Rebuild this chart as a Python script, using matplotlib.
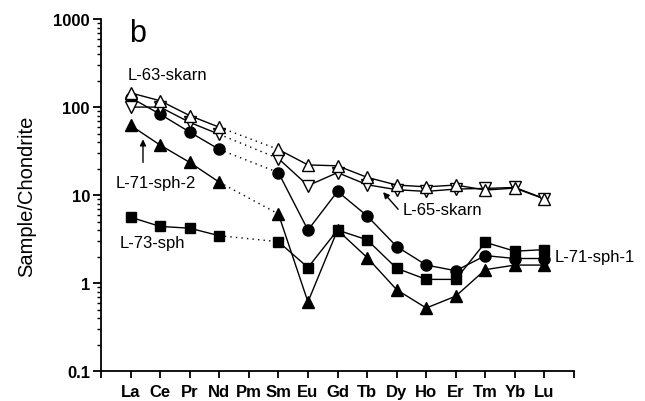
import numpy as np
import matplotlib
matplotlib.use("Agg")
from matplotlib import pyplot as plt
from matplotlib.ticker import LogLocator, NullFormatter, FixedLocator

plt.rcParams['font.family'] = ['Liberation Sans', 'DejaVu Sans']

# REE order, Pm (position 5) has no data
elements = ['La', 'Ce', 'Pr', 'Nd', 'Pm', 'Sm', 'Eu', 'Gd', 'Tb', 'Dy', 'Ho', 'Er', 'Tm', 'Yb', 'Lu']

# chondrite-normalised values, None for Pm
l63_skarn = [145, 118, 80, 59, None, 33, 22, 21.5, 15.9, 13.0, 12.4, 13.0, 11.4, 12.0, 9.0]
l65_skarn = [100, 100, 67, 49, None, 26, 12.8, 18, 13.1, 11.5, 11.0, 11.7, 11.9, 12.2, 9.1]
l71_sph1 = [128, 83, 52, 33, None, 18, 4.0, 11, 5.8, 2.6, 1.6, 1.38, 2.05, 1.9, 1.9]
l71_sph2 = [62, 37, 23.5, 14, None, 6.1, 0.61, 4.0, 1.95, 0.84, 0.52, 0.71, 1.42, 1.6, 1.6]
l73_sph = [5.6, 4.4, 4.2, 3.45, None, 2.95, 1.5, 4.0, 3.1, 1.47, 1.1, 1.1, 2.9, 2.3, 2.4]

x = np.arange(1, len(elements) + 1)

fig = plt.figure(figsize=(6.45, 4.02), dpi=100)
ax = fig.add_axes([0.1566, 0.0746, 0.7334, 0.8754])

def plot_pattern(vals, marker, filled, ms):
    v = np.array([np.nan if a is None else a for a in vals], dtype=float)
    # solid La..Nd and Sm..Lu, dotted across the Pm gap
    ax.plot(x[:4], v[:4], color='black', lw=1.0, zorder=2)
    ax.plot(x[5:], v[5:], color='black', lw=1.0, zorder=2)
    ax.plot([x[3], x[5]], [v[3], v[5]], color='black', lw=1.0,
            linestyle=(0, (1, 3)), zorder=2)
    ax.plot(x, v, linestyle='none', marker=marker, ms=ms,
            mfc='black' if filled else 'white', mec='black', mew=1.0, zorder=3)

plot_pattern(l73_sph, 's', True, 7)
plot_pattern(l71_sph2, '^', True, 9)
plot_pattern(l71_sph1, 'o', True, 8)
plot_pattern(l65_skarn, 'v', False, 9)
plot_pattern(l63_skarn, '^', False, 9)

ax.set_yscale('log')
ax.set_ylim(0.1, 1000)
ax.set_xlim(0, 16)

ax.spines['top'].set_visible(False)
ax.spines['right'].set_visible(False)
for s in ('left', 'bottom'):
    ax.spines[s].set_linewidth(1.3)

ax.yaxis.set_major_locator(LogLocator(base=10, numticks=10))
ax.yaxis.set_minor_locator(LogLocator(base=10, subs=np.arange(2, 10), numticks=10))
ax.yaxis.set_minor_formatter(NullFormatter())
ax.set_yticks([0.1, 1, 10, 100, 1000])
ax.set_yticklabels(['0.1', '1', '10', '100', '1000'], fontsize=12, fontweight='bold')

ax.xaxis.set_major_locator(FixedLocator(np.arange(0, 17)))
ax.set_xticklabels([''] + elements + [''], fontsize=12, fontweight='bold')

ax.tick_params(axis='y', which='major', direction='out', length=6, width=1.3, pad=2)
ax.tick_params(axis='y', which='minor', direction='out', length=3, width=1.0)
ax.tick_params(axis='x', which='major', direction='out', length=5, width=1.3, pad=4)

ax.set_ylabel('Sample/Chondrite', fontsize=14.5, labelpad=12)

ax.text(0.95, 700, 'b', fontsize=22, va='center', ha='left')
ax.text(0.91, 235, 'L-63-skarn', fontsize=12, va='center', ha='left')
ax.text(0.5, 14, 'L-71-sph-2', fontsize=12, va='center', ha='left')
ax.text(0.64, 2.9, 'L-73-sph', fontsize=12, va='center', ha='left')
ax.text(10.2, 6.9, 'L-65-skarn', fontsize=12, va='center', ha='left')
ax.text(15.35, 2.0, 'L-71-sph-1', fontsize=12, va='center', ha='left')

arrow = dict(arrowstyle='-|>', color='black', lw=1.0, mutation_scale=9, shrinkA=0, shrinkB=0)
ax.annotate('', xy=(1.42, 43), xytext=(1.42, 23.5), arrowprops=arrow)
ax.annotate('', xy=(9.54, 10.8), xytext=(10.05, 6.9), arrowprops=arrow)

fig.savefig('out.png', dpi=100)
